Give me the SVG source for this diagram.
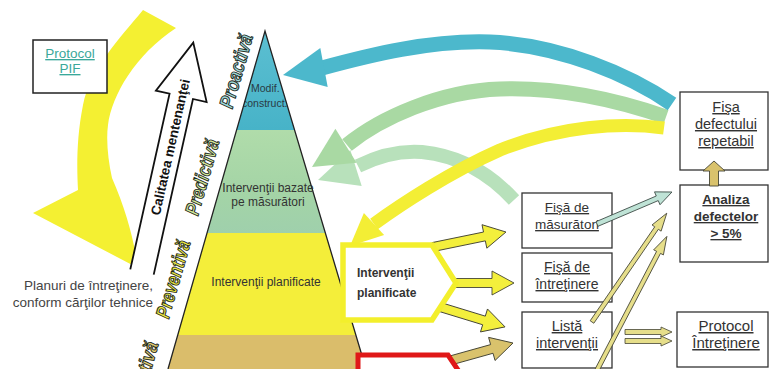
<svg xmlns="http://www.w3.org/2000/svg" width="770" height="369" viewBox="0 0 770 369">
<style>
.box{fill:#fff;stroke:#333;stroke-width:1.3}
.bt{font-family:"Liberation Sans",Arial,sans-serif;fill:#333;text-anchor:middle;text-decoration:underline}
.pt{font-family:"Liberation Sans",Arial,sans-serif;font-size:12px;fill:#333;text-anchor:middle}
.lbl{font-family:"Liberation Sans Narrow","Liberation Sans",Arial,sans-serif;font-style:italic;font-weight:bold;font-size:20px;stroke:#1e2a22;stroke-width:1}
.ya{fill:#f3ef3c;stroke:#454535;stroke-width:0.9}
.ta{fill:#d9c26c;stroke:#454535;stroke-width:0.9}
.pa{fill:#e6de8a;stroke:#454535;stroke-width:0.8}
</style>
<defs>
<clipPath id="pyr"><polygon points="265,31 168,369 366,369"/></clipPath>
<linearGradient id="gc" x1="0" y1="0" x2="0" y2="1"><stop offset="0" stop-color="#5ec0d2"/><stop offset="1" stop-color="#47b3c8"/></linearGradient>
<linearGradient id="gg" x1="0" y1="0" x2="0" y2="1"><stop offset="0" stop-color="#b0dcaa"/><stop offset="0.6" stop-color="#a4d4a6"/><stop offset="1" stop-color="#9fd0ac"/></linearGradient>
</defs>
<rect width="770" height="369" fill="#fff"/>

<g id="big-yellow-arrow">
<path d="M143,10 C118,40 90,70 83,105 C76,140 77,170 78,190 L33,213 L138,268 C134,240 126,210 112,178 C108,160 106,140 108,125 C112,95 135,55 176,28 Z" fill="#f4f032"/>
</g>

<g id="protocol-pif">
<rect x="33" y="40" width="74" height="53" fill="#fff" stroke="#222" stroke-width="1.5"/>
<text class="bt" x="70" y="58" font-size="13.5" style="fill:#3aa89a">Protocol</text>
<text class="bt" x="70" y="73" font-size="13.5" style="fill:#3aa89a">PIF</text>
</g>

<g id="planuri">
<text x="153" y="290" font-family="Liberation Sans, Arial, sans-serif" font-size="13.5" fill="#444" text-anchor="end">Planuri de întreţinere,</text>
<text x="153" y="307" font-family="Liberation Sans, Arial, sans-serif" font-size="13.5" fill="#444" text-anchor="end">conform cărţilor tehnice</text>
</g>

<g id="calitatea" transform="translate(142,272) rotate(-77.4)">
<path d="M0,-12 L180,-12 L180,-26 L235,0 L180,26 L180,12 L0,12 Z" fill="#fff"/>
<path d="M0,12 L180,12 L180,26 L235,0 L180,-26 L180,-12 L0,-12" fill="none" stroke="#111" stroke-width="1.8" stroke-linejoin="miter"/>
<text x="128" y="5" text-anchor="middle" font-family="Liberation Sans Narrow, Liberation Sans, Arial, sans-serif" font-weight="bold" font-size="13.5" fill="#111" textLength="139" lengthAdjust="spacingAndGlyphs">Calitatea mentenanţei</text>
</g>

<g id="pyramid">
<g clip-path="url(#pyr)">
<rect x="150" y="20" width="230" height="110" fill="url(#gc)"/>
<rect x="150" y="130" width="230" height="103" fill="url(#gg)"/>
<rect x="150" y="233" width="230" height="102" fill="#f4ee3a"/>
<rect x="150" y="335" width="230" height="40" fill="#dabd6b"/>
<text x="251" y="92" font-family="Liberation Sans, Arial, sans-serif" font-size="10.5" fill="#2a3a44">Modif.</text>
<text x="242" y="107" font-family="Liberation Sans, Arial, sans-serif" font-size="10.5" fill="#2a3a44">construct.</text>
</g>
<polyline points="168,369 265,31 366,369" fill="none" stroke="#222" stroke-width="1.3"/>
<text class="pt" x="268" y="192">Intervenţii bazate</text>
<text class="pt" x="268" y="206">pe măsurători</text>
<text class="pt" x="266" y="286">Intervenţii planificate</text>
</g>

<g id="levels">
<text class="lbl" transform="translate(236,71) rotate(-74)" text-anchor="middle" dy="7" textLength="76" lengthAdjust="spacingAndGlyphs" fill="#9fd9d9">Proactivă</text>
<text class="lbl" transform="translate(202,177) rotate(-74)" text-anchor="middle" dy="7" textLength="78" lengthAdjust="spacingAndGlyphs" fill="#d6ea9a">Predictivă</text>
<text class="lbl" transform="translate(173,279) rotate(-74)" text-anchor="middle" dy="7" textLength="80" lengthAdjust="spacingAndGlyphs" fill="#f0ea40">Preventivă</text>
<text class="lbl" transform="translate(152,342) rotate(-74)" text-anchor="end" dy="7" textLength="80" lengthAdjust="spacingAndGlyphs" fill="#e6cf70">Corectivă</text>
</g>

<g id="fisa-masuratori">
<rect class="box" x="522" y="193" width="90" height="55"/>
<text class="bt" x="567" y="212" font-size="13.5">Fişă de</text>
<text class="bt" x="567" y="229" font-size="13.5">măsurători</text>
</g>
<g id="fisa-intretinere">
<rect class="box" x="522" y="253" width="90" height="49"/>
<text class="bt" x="567" y="272" font-size="14">Fişă de</text>
<text class="bt" x="567" y="289" font-size="14">întreţinere</text>
</g>
<g id="lista-interventii">
<rect class="box" x="522" y="312" width="90" height="56"/>
<text class="bt" x="567" y="331" font-size="14.5">Listă</text>
<text class="bt" x="567" y="348" font-size="14.5">intervenţii</text>
</g>
<g id="fisa-defectului">
<rect class="box" x="680" y="92" width="88" height="78"/>
<text class="bt" x="726" y="112" font-size="14.5">Fişa</text>
<text class="bt" x="726" y="129" font-size="14.5">defectului</text>
<text class="bt" x="726" y="146" font-size="14.5">repetabil</text>
</g>
<g id="analiza-defectelor">
<rect class="box" x="680" y="185" width="88" height="77"/>
<text class="bt" x="726" y="204" font-size="13.5" font-weight="bold">Analiza</text>
<text class="bt" x="726" y="221" font-size="13.5" font-weight="bold">defectelor</text>
<text class="bt" x="726" y="238" font-size="13.5" font-weight="bold">&gt; 5%</text>
</g>
<g id="protocol-intretinere">
<rect class="box" x="677" y="312" width="91" height="55"/>
<text class="bt" x="726" y="331" font-size="15">Protocol</text>
<text class="bt" x="726" y="348" font-size="15">Întreţinere</text>
</g>

<g id="connectors">
<path d="M514,200 C492,176 462,156 422,152 C396,150 374,158 358,166" fill="none" stroke="#b8e1bb" stroke-width="14"/>
<polygon points="318,180 350.3,149.9 361.7,186.1" fill="#b8e1bb"/>
<path d="M666,117 C620,101 560,87 500,89 C440,91 380,118 347,145" fill="none" stroke="#a9d9a3" stroke-width="15"/>
<polygon points="312,167 335.4,128.8 356.6,162.8" fill="#a9d9a3"/>
<path d="M672,104 C630,75 560,45 490,42 C430,40 370,55 322,68" fill="none" stroke="#4cb8cc" stroke-width="15"/>
<polygon points="283,75 320.3,47.9 327.7,87.1" fill="#4cb8cc"/>
<path d="M664,128 C620,122 560,126 500,150 C450,172 400,205 374,224" fill="none" stroke="#f3ee35" stroke-width="13"/>
<polygon points="350,246 363.9,212.9 384.1,235.1" fill="#f3ee35"/>

<path class="ya" transform="translate(433,247) rotate(-11.6)" d="M0,-4.5 L52.5,-4.5 L52.5,-12 L74.5,0 L52.5,12 L52.5,4.5 L0,4.5Z"/>
<path class="ya" transform="translate(445,283)" d="M0,-4.5 L47,-4.5 L47,-12 L69,0 L47,12 L47,4.5 L0,4.5Z"/>
<path class="ya" transform="translate(440,307) rotate(17)" d="M0,-4.5 L46,-4.5 L46,-12 L68,0 L46,12 L46,4.5 L0,4.5Z"/>
<path class="ta" transform="translate(445,362) rotate(-15.6)" d="M0,-4.5 L48.6,-4.5 L48.6,-12 L70.6,0 L48.6,12 L48.6,4.5 L0,4.5Z"/>

<path transform="translate(597,224) rotate(-23.1)" d="M0,-2.5 L65.5,-2.5 L65.5,-7 L81.5,0 L65.5,7 L65.5,2.5 L0,2.5Z" fill="#bfe3d6" stroke="#3c4a44" stroke-width="0.8"/>
<path class="pa" transform="translate(592,322) rotate(-55.5)" d="M0,-2.2 L114,-2.2 L114,-5.5 L132,0 L114,5.5 L114,2.2 L0,2.2Z"/>
<path class="pa" transform="translate(596,372) rotate(-62.4)" d="M0,-2.2 L135,-2.2 L135,-5.5 L153,0 L135,5.5 L135,2.2 L0,2.2Z"/>
<path class="ta" transform="translate(714,186) rotate(-90)" d="M0,-4.5 L15,-4.5 L15,-11 L25,0 L15,11 L15,4.5 L0,4.5Z"/>
<path class="pa" transform="translate(625,332)" d="M0,-2.5 L36,-2.5 L36,-5 L47,0 L36,5 L36,2.5 L0,2.5Z"/>
<path class="pa" transform="translate(625,341)" d="M0,-2.5 L36,-2.5 L36,-5 L47,0 L36,5 L36,2.5 L0,2.5Z"/>
</g>

<g id="interventii-planificate">
<polygon points="343,245 432,245 456,283 432,320 343,320" fill="#fff" stroke="#f3ef2c" stroke-width="5.5"/>
<text x="357" y="277" font-family="Liberation Sans, Arial, sans-serif" font-size="12" font-weight="bold" fill="#333">Intervenţii</text>
<text x="357" y="297" font-family="Liberation Sans, Arial, sans-serif" font-size="12" font-weight="bold" fill="#333">planificate</text>
</g>
<g id="red-box">
<polygon points="358,385 358,355 448,355 468,385" fill="#fff" stroke="#e01818" stroke-width="5"/>
</g>
</svg>
